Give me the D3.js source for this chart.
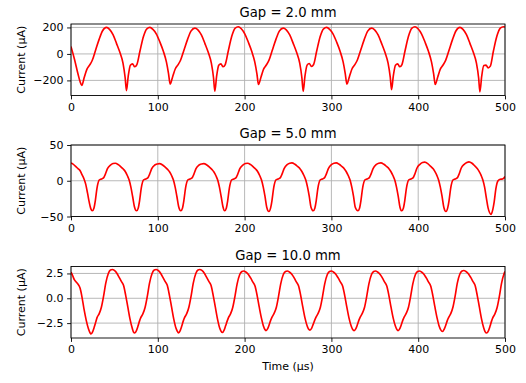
<!DOCTYPE html>
<html><head><meta charset="utf-8">
<script src="https://cdn.jsdelivr.net/npm/d3@7"></script>
<style>
html,body{margin:0;padding:0;background:#fff;}
svg{display:block;font-family:"DejaVu Sans",sans-serif;}
</style></head>
<body>
<svg id="chart" width="526" height="383"></svg>
<script>
// ---------- DATA ----------
const gapTitles = ["Gap = 2.0 mm", "Gap = 5.0 mm", "Gap = 10.0 mm"];
const xTicks = [0, 100, 200, 300, 400, 500];
const yTicks1 = [-200, 0, 200];
const yTicks2 = [-50, 0, 50];
const yTicks3 = [-2.5, 0, 2.5];
const yLimits1 = [-314, 226];
const yLimits2 = [-50, 50];
const yLimits3 = [-4.0, 3.2];
const xLabel = "Time (µs)";
const yLabel = "Current (µA)";

// Gap = 2.0 mm
const time1 = [0, 4, 8, 10.5,
 12.4, 15.4, 18.4, 21.4, 24.4, 28.4, 32.4, 36.4, 40.9, 44.4, 48.4, 52.4, 56.4, 59.9, 62.4, 63.9, 65.9, 68.4, 70.9, 73.4, 75.9, 79.4, 83.4, 87.4, 90.9, 94.4, 98.4, 102.4, 106.4, 109.9, 112.4,
 114.2, 117.2, 120.2, 123.2, 126.2, 130.2, 134.2, 138.2, 142.7, 146.2, 150.2, 154.2, 158.2, 161.7, 164.2, 165.7, 167.7, 170.2, 172.7, 175.2, 177.7, 181.2, 185.2, 189.2, 192.7, 196.2, 200.2, 204.2, 208.2, 211.7, 214.2,
 216, 219, 222, 225, 228, 232, 236, 240, 244.5, 248, 252, 256, 260, 263.5, 266, 267.5, 269.5, 272, 274.5, 277, 279.5, 283, 287, 291, 294.5, 298, 302, 306, 310, 313.5, 316,
 317.8, 320.8, 323.8, 326.8, 329.8, 333.8, 337.8, 341.8, 346.3, 349.8, 353.8, 357.8, 361.8, 365.3, 367.8, 369.3, 371.3, 373.8, 376.3, 378.8, 381.3, 384.8, 388.8, 392.8, 396.3, 399.8, 403.8, 407.8, 411.8, 415.3, 417.8,
 419.6, 422.6, 425.6, 428.6, 431.6, 435.6, 439.6, 443.6, 448.1, 451.6, 455.6, 459.6, 463.6, 467.1, 469.6, 471.1, 473.1, 475.6, 478.1, 480.6, 483.1, 486.6, 490.6, 494.6, 498.1, 500];
const current1 = [56, -40, -150, -210,
 -238, -175, -115, -85, -50, 30, 110, 175, 200, 185, 145, 80, 10, -70, -180, -277, -170, -85, -75, -97, -80, 20, 130, 190, 200, 185, 150, 90, 20, -60, -150,
 -228, -170, -112, -83, -48, 30, 108, 172, 195, 182, 143, 80, 10, -70, -180, -282, -172, -86, -75, -97, -80, 22, 133, 195, 205, 190, 152, 90, 20, -60, -150,
 -231, -172, -113, -84, -49, 30, 108, 172, 195, 182, 143, 80, 10, -70, -180, -282, -170, -85, -72, -95, -80, 20, 130, 190, 200, 185, 150, 90, 20, -60, -150,
 -228, -170, -112, -83, -48, 30, 108, 172, 195, 182, 143, 80, 10, -70, -175, -270, -168, -85, -75, -97, -80, 22, 133, 195, 205, 190, 152, 90, 20, -60, -150,
 -231, -172, -113, -84, -49, 30, 110, 175, 200, 185, 145, 80, 10, -70, -180, -287, -172, -88, -85, -105, -92, 20, 133, 195, 205, 203];

// Gap = 5.0 mm
const time2 = [0, 2, 5, 8, 10.5, 12.5, 15, 17, 19, 21, 22.8,
 24.5, 26.5, 28, 30, 32.5, 35, 37.5, 39.5, 42, 45.5, 48.5, 51, 54.5, 57.5, 60.5, 62.5, 65, 67, 69, 71, 73,
 75.5, 77.5, 79, 81, 83.5, 86, 88.5, 90.5, 93, 96.5, 99.5, 102, 105.5, 108.5, 111.5, 113.5, 116, 118, 120, 122, 124,
 126.5, 128.5, 130, 132, 134.5, 137, 139.5, 141.5, 144, 147.5, 150.5, 153, 156.5, 159.5, 162.5, 164.5, 167, 169, 171, 173, 175,
 177, 179, 180.5, 182.5, 185, 187.5, 190, 192, 194.5, 198, 201, 203.5, 207, 210, 213, 215, 217.5, 219.5, 221.5, 223.5, 225.5,
 228, 230, 231.5, 233.5, 236, 238.5, 241, 243, 245.5, 249, 252, 254.5, 258, 261, 264, 266, 268.5, 270.5, 272.5, 274.5, 276.5,
 279, 281, 282.5, 284.5, 287, 289.5, 292, 294, 296.5, 300, 303, 305.5, 309, 312, 315, 317, 319.5, 321.5, 323.5, 325.5, 327.5,
 330.5, 332.5, 334, 336, 338.5, 341, 343.5, 345.5, 348, 351.5, 354.5, 357, 360.5, 363.5, 366.5, 368.5, 371, 373, 375, 377, 379,
 381, 383, 384.5, 386.5, 389, 391.5, 394, 396, 398.5, 402, 405, 407.5, 411, 414, 417, 419, 421.5, 423.5, 425.5, 427.5, 429.5,
 432, 434, 435.5, 437.5, 440, 442.5, 445, 447, 449.5, 453, 456, 458.5, 462, 465, 468, 470, 472.5, 474.5, 476.5, 478.5, 480.5,
 484, 486, 487.5, 489.5, 492, 494.5, 497, 499, 500];
const current2 = [25, 23.5, 20.5, 17, 14, 9, 2.5, -5, -17, -30, -39,
 -42, -38, -28, -10, 1, 2.5, 4, 9, 17, 22, 24, 24.5, 22.5, 19.5, 16, 13, 7, 1, -9, -22, -36,
 -42, -38, -28, -10, 1, 2.5, 4, 9, 17, 22, 23.5, 24, 22, 19, 15.5, 12.5, 7, 1, -9, -22, -36,
 -42, -38, -28, -10, 1, 2.5, 4, 9, 17, 22, 23.5, 24, 22, 19, 15.5, 12.5, 7, 1, -9, -22, -36,
 -42, -38, -28, -10, 1, 2.5, 4, 9, 17, 22, 24, 24.5, 22.5, 19.5, 16, 13, 7, 1, -9, -22, -37,
 -43, -38, -28, -10, 1, 2.5, 4, 9, 17, 22.5, 24.5, 25, 23, 20, 16.5, 13, 7, 1, -9, -22, -37,
 -42, -38, -28, -10, 1, 2.5, 4, 9, 17, 22.5, 24.5, 25, 23, 20, 16.5, 13, 7, 1, -9, -22, -37,
 -42, -38, -28, -10, 1, 2.5, 4, 9, 17, 22.5, 24.5, 25, 23, 20, 16.5, 13, 7, 1, -9, -22, -37,
 -42, -38, -28, -10, 1, 2.5, 4, 9, 17.5, 23, 25.5, 26, 24, 20.5, 17, 13.5, 7.5, 1, -9, -22, -37,
 -43, -38, -28, -10, 1, 2.5, 4, 9, 17.5, 23, 25.5, 26.5, 24.5, 21, 17, 13.5, 7.5, 1, -9, -24, -38,
 -47, -40, -30, -11, 0, 2, 2.5, 4, 6];

// Gap = 10.0 mm
const time3 = [0, 2, 4, 7, 9, 10.5, 12.5, 15, 17.5, 20, 21.8,
 23, 25, 26.8, 28.5, 30, 32.5, 35, 37.5, 40, 43, 45.5, 47.6, 50, 53, 55.5, 58, 60.5, 63, 65.5, 68, 70.5, 72,
 73.4, 75.4, 77.2, 78.9, 80.4, 82.9, 85.4, 87.9, 90.4, 93.4, 95.9, 98, 100.4, 103.4, 105.9, 108.4, 110.9, 113.4, 115.9, 118.4, 120.9, 122.4,
 123.8, 125.8, 127.6, 129.3, 130.8, 133.3, 135.8, 138.3, 140.8, 143.8, 146.3, 148.4, 150.8, 153.8, 156.3, 158.8, 161.3, 163.8, 166.3, 168.8, 171.3, 172.8,
 174.4, 176.4, 178.2, 179.9, 181.4, 183.9, 186.4, 188.9, 191.4, 194.4, 196.9, 199, 201.4, 204.4, 206.9, 209.4, 211.9, 214.4, 216.9, 219.4, 221.9, 223.4,
 224.6, 226.6, 228.4, 230.1, 231.6, 234.1, 236.6, 239.1, 241.6, 244.6, 247.1, 249.2, 251.6, 254.6, 257.1, 259.6, 262.1, 264.6, 267.1, 269.6, 272.1, 273.6,
 275.3, 277.3, 279.1, 280.8, 282.3, 284.8, 287.3, 289.8, 292.3, 295.3, 297.8, 299.9, 302.3, 305.3, 307.8, 310.3, 312.8, 315.3, 317.8, 320.3, 322.8, 324.3,
 326.2, 328.2, 330, 331.7, 333.2, 335.7, 338.2, 340.7, 343.2, 346.2, 348.7, 350.8, 353.2, 356.2, 358.7, 361.2, 363.7, 366.2, 368.7, 371.2, 373.7, 375.2,
 376.8, 378.8, 380.6, 382.3, 383.8, 386.3, 388.8, 391.3, 393.8, 396.8, 399.3, 401.4, 403.8, 406.8, 409.3, 411.8, 414.3, 416.8, 419.3, 421.8, 424.3, 425.8,
 428, 430, 431.8, 433.5, 435, 437.5, 440, 442.5, 445, 448, 450.5, 452.6, 455, 458, 460.5, 463, 465.5, 468, 470.5, 473, 475.5, 477,
 479, 481, 482.8, 484.5, 486, 488.5, 491, 493.5, 496, 499, 500];
const current3 = [2.65, 2.25, 1.85, 1.55, 1.3, 1.0, 0.2, -1.1, -2.2, -3.05, -3.45,
 -3.6, -3.35, -2.9, -2.4, -1.95, -1.55, -0.9, 0.2, 1.5, 2.5, 2.85, 2.9, 2.8, 2.5, 2.1, 1.7, 1.3, 0.3, -0.9, -2.1, -3.0, -3.4,
 -3.5, -3.25, -2.8, -2.3, -1.95, -1.55, -0.9, 0.2, 1.5, 2.5, 2.85, 2.9, 2.8, 2.5, 2.1, 1.7, 1.3, 0.3, -0.9, -2.1, -3.0, -3.3,
 -3.5, -3.25, -2.8, -2.3, -1.95, -1.55, -0.9, 0.2, 1.5, 2.5, 2.85, 2.9, 2.8, 2.5, 2.1, 1.7, 1.3, 0.3, -0.9, -2.1, -3.0, -3.3,
 -3.45, -3.2, -2.75, -2.3, -1.95, -1.55, -0.9, 0.2, 1.45, 2.4, 2.7, 2.75, 2.65, 2.4, 2.05, 1.65, 1.25, 0.3, -0.9, -2.0, -2.85, -3.15,
 -3.25, -3.05, -2.65, -2.2, -1.9, -1.5, -0.9, 0.2, 1.45, 2.4, 2.7, 2.75, 2.65, 2.4, 2.05, 1.65, 1.25, 0.3, -0.9, -2.0, -2.8, -3.1,
 -3.2, -3.0, -2.6, -2.2, -1.9, -1.5, -0.9, 0.2, 1.45, 2.4, 2.7, 2.75, 2.65, 2.4, 2.05, 1.65, 1.25, 0.3, -0.9, -2.0, -2.8, -3.1,
 -3.25, -3.05, -2.65, -2.2, -1.9, -1.5, -0.9, 0.2, 1.45, 2.4, 2.7, 2.75, 2.65, 2.4, 2.05, 1.65, 1.25, 0.3, -0.9, -2.0, -2.8, -3.1,
 -3.25, -3.05, -2.65, -2.2, -1.9, -1.5, -0.9, 0.2, 1.45, 2.4, 2.7, 2.75, 2.65, 2.4, 2.05, 1.65, 1.25, 0.3, -0.9, -2.0, -2.85, -3.15,
 -3.35, -3.1, -2.7, -2.25, -1.95, -1.55, -0.9, 0.2, 1.5, 2.45, 2.75, 2.8, 2.7, 2.45, 2.1, 1.7, 1.3, 0.3, -0.9, -2.1, -3.0, -3.35,
 -3.5, -3.25, -2.8, -2.3, -1.95, -1.55, -0.9, 0.2, 1.5, 2.5, 2.7];

// ---------- LAYOUT ----------
const svg = d3.select("#chart");
const left = 71, right = 505, panelH = 71.5;
const panelTops = [24, 145, 266.5];
const fs = 11, titleFs = 13.2;

const panels = [
  {title: gapTitles[0], time: time1, cur: current1, ticks: yTicks1, lim: yLimits1, fmt: d3.format("d")},
  {title: gapTitles[1], time: time2, cur: current2, ticks: yTicks2, lim: yLimits2, fmt: d3.format("d")},
  {title: gapTitles[2], time: time3, cur: current3, ticks: yTicks3, lim: yLimits3, fmt: d3.format(".1f")}
];

panels.forEach((p, i) => {
  const top = panelTops[i], bottom = top + panelH;
  const x = d3.scaleLinear().domain([0, 500]).range([left, right]);
  const y = d3.scaleLinear().domain(p.lim).range([bottom, top]);
  const g = svg.append("g");

  // clip
  const cid = "clip" + i;
  svg.append("defs").append("clipPath").attr("id", cid)
    .append("rect").attr("x", left).attr("y", top).attr("width", right - left).attr("height", panelH);

  // grid
  g.selectAll(".gx").data(xTicks).join("line")
    .attr("x1", d => x(d)).attr("x2", d => x(d)).attr("y1", top).attr("y2", bottom)
    .attr("stroke", "#b0b0b0").attr("stroke-width", 0.9);
  g.selectAll(".gy").data(p.ticks).join("line")
    .attr("x1", left).attr("x2", right).attr("y1", d => y(d)).attr("y2", d => y(d))
    .attr("stroke", "#b0b0b0").attr("stroke-width", 0.9);

  // line
  const pts = d3.zip(p.time, p.cur);
  const line = d3.line().x(d => x(d[0])).y(d => y(d[1])).curve(d3.curveMonotoneX);
  g.append("path").datum(pts).attr("d", line)
    .attr("fill", "none").attr("stroke", "#ff0000").attr("stroke-width", 1.65)
    .attr("stroke-linejoin", "round").attr("clip-path", `url(#${cid})`);

  // axes
  const ax = g.append("g").attr("transform", `translate(0,${bottom})`)
    .call(d3.axisBottom(x).tickValues(xTicks).tickFormat(d3.format("d")).tickSizeInner(3.9).tickSizeOuter(0).tickPadding(3.6));
  const ay = g.append("g").attr("transform", `translate(${left},0)`)
    .call(d3.axisLeft(y).tickValues(p.ticks).tickFormat(p.fmt).tickSizeInner(3.9).tickSizeOuter(0).tickPadding(3.6));
  [ax, ay].forEach(a => {
    a.select(".domain").remove();
    a.selectAll(".tick line").attr("stroke", "#000").attr("stroke-width", 0.9);
    a.selectAll(".tick text").attr("fill", "#000").style("font-size", fs + "px").style("font-family", "DejaVu Sans");
  });

  // spines
  g.append("rect").attr("x", left).attr("y", top).attr("width", right - left).attr("height", panelH)
    .attr("fill", "none").attr("stroke", "#000").attr("stroke-width", 0.9);

  // title
  g.append("text").attr("x", (left + right) / 2).attr("y", top - 6.8)
    .attr("text-anchor", "middle").style("font-size", titleFs + "px").attr("fill", "#000").text(p.title);

  // y label
  g.append("text").attr("transform", `translate(24.5,${(top + bottom) / 2}) rotate(-90)`)
    .attr("text-anchor", "middle").style("font-size", fs + "px").attr("fill", "#000").text(yLabel);
});

svg.append("text").attr("x", (left + right) / 2).attr("y", 369.5)
  .attr("text-anchor", "middle").style("font-size", fs + "px").attr("fill", "#000").text(xLabel);
</script>
</body></html>
